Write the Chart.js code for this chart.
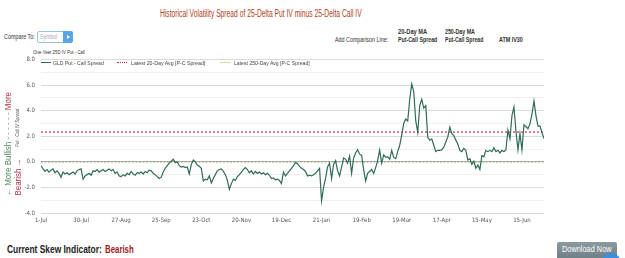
<!DOCTYPE html>
<html>
<head>
<meta charset="utf-8">
<script src="https://cdn.jsdelivr.net/npm/chart.js@4.4.1/dist/chart.umd.min.js"></script>
<style>
  body { margin: 0; width: 625px; height: 258px; overflow: hidden; background: #fff; position: relative;
         font-family: "Liberation Sans", Arial, sans-serif; color: #333; }
  .t { position: absolute; white-space: nowrap; transform-origin: 0 50%; line-height: 1; }
  .r { position: absolute; white-space: nowrap; line-height: 1; }
  .b { font-weight: bold; }
  #wrap { position: absolute; left: 0; top: 50px; width: 560px; height: 180px; }
  .swatch { position: absolute; height: 0; }
</style>
</head>
<body>

<div class="t" data-w="202" style="left:160px;top:9px;font-size:10px;color:#b0401c;">Historical Volatility Spread of 25-Delta Put IV minus 25-Delta Call IV</div>

<div class="t" data-w="31" style="left:4px;top:33px;font-size:8px;">Compare To:</div>
<div style="position:absolute;left:37px;top:31px;width:25px;height:10px;border:1px solid #9cc3dc;border-radius:2px 0 0 2px;"></div>
<div class="t" data-w="17" style="left:40px;top:33px;font-size:7px;color:#aaa;">Symbol</div>
<div style="position:absolute;left:63px;top:31px;width:10px;height:12px;background:#5aa5e6;border-radius:0 2px 2px 0;"></div>
<div style="position:absolute;left:67px;top:35px;width:0;height:0;border-left:3px solid #fff;border-top:2px solid transparent;border-bottom:2px solid transparent;"></div>

<div class="t" data-w="53" style="left:335px;top:36px;font-size:8px;">Add Comparison Line:</div>
<div class="t b" data-w="29" style="left:398px;top:29px;font-size:6.5px;">20-Day MA</div>
<div class="t b" data-w="39" style="left:398px;top:37px;font-size:6.5px;">Put-Call Spread</div>
<div class="t b" data-w="30" style="left:445px;top:29px;font-size:6.5px;">250-Day MA</div>
<div class="t b" data-w="38" style="left:445px;top:37px;font-size:6.5px;">Put-Call Spread</div>
<div class="t b" data-w="24" style="left:499px;top:37px;font-size:6.5px;">ATM IV30</div>

<div class="t" data-w="52" style="left:33px;top:49px;font-size:6px;">One-Year 25D IV Put - Call</div>

<div id="wrap"><canvas id="chart" width="560" height="180"></canvas></div>

<!-- legend inside plot -->
<div class="swatch" style="left:41px;top:62px;width:10px;border-top:1.5px solid #2f6b57;"></div>
<div class="t" data-w="51" style="left:53px;top:60px;font-size:6px;color:#444;">GLD Put - Call Spread</div>
<div class="swatch" style="left:117px;top:62px;width:10px;border-top:1.5px dotted #c0303c;"></div>
<div class="t" data-w="74" style="left:131px;top:60px;font-size:6px;color:#444;">Latest 20-Day Avg [P-C Spread]</div>
<div class="swatch" style="left:220px;top:62px;width:10px;border-top:1.5px dashed #d2d28a;"></div>
<div class="t" data-w="76" style="left:234px;top:60px;font-size:6px;color:#444;">Latest 250-Day Avg [P-C Spread]</div>

<!-- rotated side captions -->
<div class="r" data-w="104" data-cx="8" data-cy="144" style="font-size:9px;"><span style="color:#4f8a63;">&larr; More Bullish</span> <span style="color:#999;">- - - - - -</span> <span style="color:#b0304e;">More</span></div>
<div class="r" data-w="37" data-cx="17.5" data-cy="177" style="font-size:9px;color:#b0304e;">Bearish &rarr;</div>
<div class="r" data-w="38" data-cx="17" data-cy="128" style="font-size:5px;font-style:italic;color:#555;">Put - Call IV Spread</div>

<div class="t b" data-w="95" style="left:7px;top:245px;font-size:10px;color:#222;">Current Skew Indicator:</div>
<div class="t b" data-w="29" style="left:105px;top:245px;font-size:10px;color:#9e1b1b;">Bearish</div>

<div style="position:absolute;left:557px;top:242px;width:60px;height:18px;background:linear-gradient(#8c9aa0,#6d7d84);border-radius:2px;"></div>
<div class="t" data-w="50" style="left:562px;top:245px;font-size:9px;color:#fff;">Download Now</div>
<div style="position:absolute;left:601px;top:253px;width:20px;height:20px;border-radius:50%;background:#3d8fdc;"></div>

<script>
// trading-day axis labels
const tickLabels = ['1-Jul', '30-Jul', '27-Aug', '25-Sep', '23-Oct', '20-Nov', '19-Dec',
  '21-Jan', '19-Feb', '19-Mar', '17-Apr', '15-May', '15-Jun'];
const tickDays = [0, 20, 40, 60, 80, 100, 120, 140, 160, 180, 200, 220, 240];

// GLD 25-delta put IV minus call IV, one value per trading day
const spread = [
  -0.30, -0.55, -0.75, -0.60, -0.80, -0.65, -0.55, -0.85, -0.70, -0.90,
  -1.20, -0.80, -0.95, -0.85, -1.00, -0.90, -0.80, -0.95, -0.70, -0.60,
  -0.55, -1.35, -1.10, -1.00, -0.90, -1.05, -0.70, -0.75, -0.60, -0.80,
  -0.70, -0.60, -0.75, -0.65, -0.55, -0.70, -0.60, -0.90, -0.80, -1.10,
  -1.15, -1.00, -1.10, -0.90, -1.00, -0.75, -0.95, -1.05, -0.85, -0.90,
  -0.80, -0.95, -0.75, -0.85, -0.65, -0.70, -0.90, -1.00, -1.15, -1.30,
  -1.20, -0.80, -0.50, -0.30, -0.10, 0.05, 0.20, -0.05, 0.00, -0.30,
  -0.40, -0.35, -0.45, -0.40, -0.95, -0.20, 0.15, 0.00, -0.25, -0.35,
  -0.50, -1.50, -1.35, -1.40, -1.10, -1.65, -1.30, -1.00, -0.70, -0.60,
  -0.55, -0.75, -1.00, -1.45, -2.15, -1.70, -1.35, -1.45, -1.15, -1.00,
  -0.80, -0.60, -0.45, -0.60, -0.85, -0.70, -0.95, -0.75, -0.90, -0.80,
  -0.95, -0.85, -1.00, -0.90, -1.05, -1.30, -1.25, -1.40, -1.35, -1.45,
  -1.70, -0.80, -1.10, -0.90, -0.70, -0.50, -0.30, -0.05, -0.15, -0.35,
  -0.50, -0.60, -0.75, -1.10, -1.05, -1.10, -1.00, -0.90, -0.70, -0.50,
  -3.05, -2.00, -1.30, -0.40, -0.10, -1.30, -0.20, 0.10, -0.70, -1.10,
  -0.40, 0.30, 0.20, -0.10, 0.45, -0.90, 0.30, 0.70, 0.95, 0.60,
  0.50, -0.60, -1.50, -0.90, -0.75, -0.60, -0.90, -0.45, 0.10, 0.92,
  -0.10, 0.55, 0.35, 0.40, 0.20, 0.90, 0.35, 0.25, 0.80, 1.30,
  2.10, 3.00, 3.35, 3.20, 4.90, 6.10, 5.50, 3.20, 2.30, 4.40,
  4.90, 4.20, 4.40, 1.90, 1.70, 1.80, 1.30, 0.80, 0.90, 0.90,
  0.95, 1.15, 1.55, 1.95, 2.72, 2.20, 2.05, 1.70, 1.40, 0.90,
  0.80, 1.05, 0.90, 0.15, 0.25, -0.20, 0.05, -0.50, -0.25, -0.60,
  0.50, 0.40, 0.90, 0.80, 0.90, 0.80, 1.10, 0.80, 0.90, 0.70,
  0.90, 0.80, 0.95, 2.50, 1.80, 3.60, 4.30, 2.40, 0.95, 2.20,
  0.92, 2.90, 2.75, 2.60, 2.97, 3.74, 4.77, 3.60, 2.80, 2.80,
  2.30, 1.82
];

const avg20 = 2.33;   // latest 20-day average
const avg250 = 0.0;   // latest 250-day average

const lastDay = spread.length - 1;
const flat = v => [{ x: 0, y: v }, { x: lastDay, y: v }];

Chart.defaults.font.family = '"Liberation Sans Narrow", "DejaVu Sans Condensed", "Liberation Sans", Arial';
Chart.defaults.font.size = 6;
Chart.defaults.color = '#555';

new Chart(document.getElementById('chart').getContext('2d'), {
  type: 'line',
  data: {
    datasets: [{
      label: 'GLD Put - Call Spread',
      data: spread.map((v, i) => ({ x: i, y: v })),
      borderColor: '#2f6b57',
      borderWidth: 1.2,
      pointRadius: 0,
      tension: 0,
      order: 0
    }, {
      label: 'Latest 20-Day Avg [P-C Spread]',
      data: flat(avg20),
      borderColor: '#c0303c',
      borderWidth: 1.2,
      borderDash: [2, 2],
      pointRadius: 0,
      order: 1
    }, {
      label: 'Latest 250-Day Avg [P-C Spread]',
      data: flat(avg250),
      borderColor: '#a4a48a',
      borderWidth: 1.5,
      borderDash: [2, 1.5],
      pointRadius: 0,
      order: 1
    }]
  },
  options: {
    responsive: false,
    animation: false,
    devicePixelRatio: 1,
    layout: { padding: { top: 8, right: 16, left: 0, bottom: 0 } },
    plugins: { legend: { display: false }, tooltip: { enabled: false } },
    scales: {
      x: {
        type: 'linear',
        min: 0,
        max: lastDay,
        grid: { display: false, drawTicks: false },
        border: { display: false },
        afterBuildTicks: axis => { axis.ticks = tickDays.map(v => ({ value: v })); },
        afterFit: axis => { axis.height = 17; },
        ticks: {
          autoSkip: false,
          maxRotation: 0,
          padding: 4,
          callback: v => tickLabels[tickDays.indexOf(v)]
        }
      },
      y: {
        min: -4,
        max: 8,
        border: { display: false },
        afterFit: axis => { axis.width = 41; },
        grid: {
          drawTicks: false,
          color: ctx => ctx.tick.value === 0 ? '#b5b5b5' : (ctx.tick.value % 2 === 0 ? '#dadada' : '#efefef')
        },
        ticks: {
          stepSize: 1,
          padding: 6,
          autoSkip: false,
          callback: v => (v % 2 === 0 ? v.toFixed(1) : '')
        }
      }
    }
  }
});

// squeeze the condensed page texts to their widths
document.querySelectorAll('.t').forEach(el => {
  const s = +el.dataset.w / el.scrollWidth;
  el.style.transform = `scaleX(${s})`;
});
document.querySelectorAll('.r').forEach(el => {
  const s = +el.dataset.w / el.scrollWidth;
  el.style.left = el.dataset.cx + 'px';
  el.style.top = el.dataset.cy + 'px';
  el.style.transform = `translate(-50%, -50%) rotate(-90deg) scaleX(${s})`;
});
</script>
</body>
</html>
